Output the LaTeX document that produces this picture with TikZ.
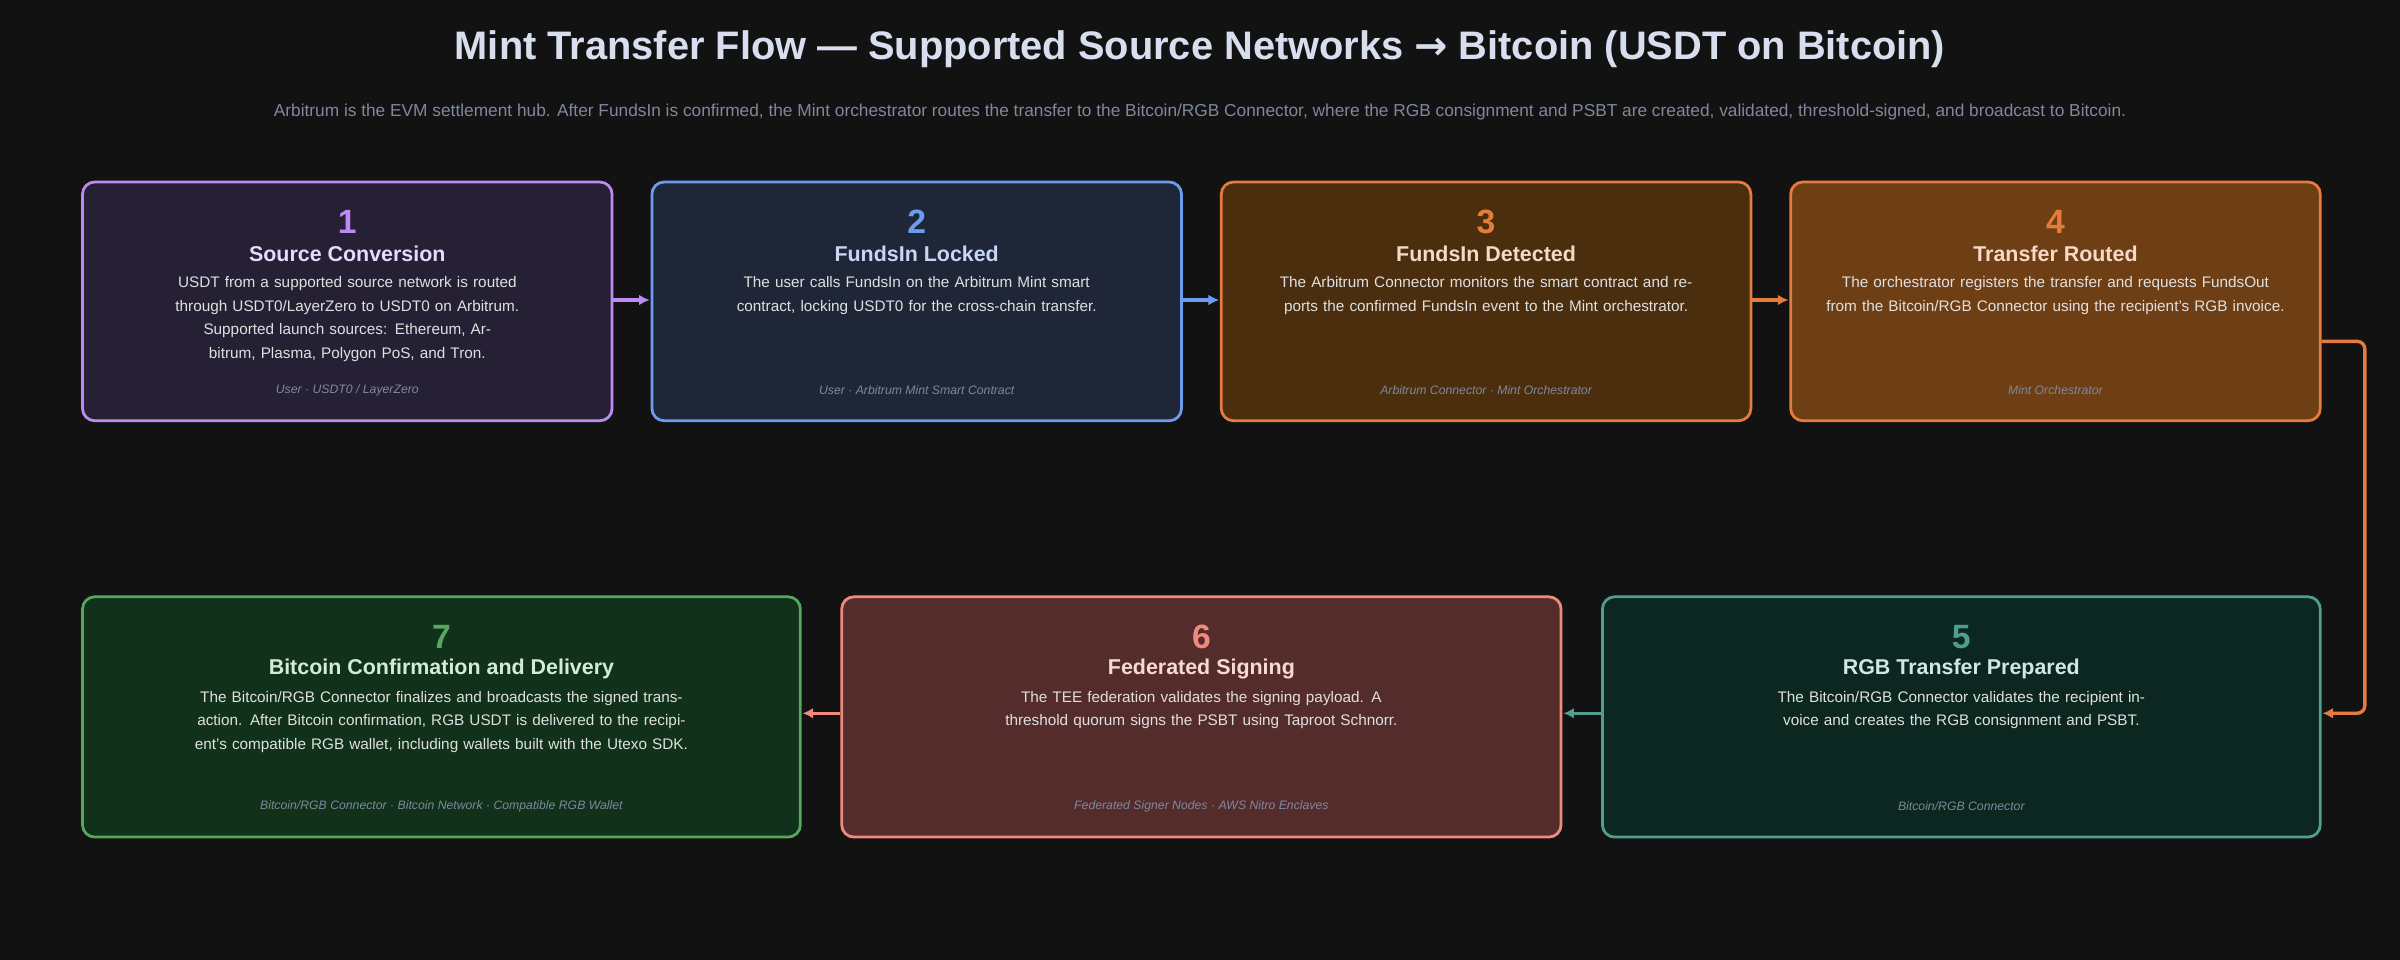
\documentclass[tikz,border=0pt]{standalone}
\usepackage{fontspec}
\usetikzlibrary{arrows.meta}
\setmainfont{Liberation Sans}
\newfontfamily\dejavu{DejaVu Sans}
\definecolor{bg}{HTML}{121212}
\definecolor{titlec}{HTML}{D8DEEE}
\definecolor{footc}{HTML}{7F889C}
\definecolor{pA}{HTML}{BC8AF2}\definecolor{fA}{HTML}{252034}\definecolor{tA}{HTML}{E6DAFF}
\definecolor{pB}{HTML}{6C9CF0}\definecolor{fB}{HTML}{1E2638}\definecolor{tB}{HTML}{C8D6F4}
\definecolor{pC}{HTML}{E47C3E}\definecolor{fC}{HTML}{4A2E0E}\definecolor{tC}{HTML}{F6D9C6}
\definecolor{fD}{HTML}{6E3F15}
\definecolor{pE}{HTML}{4F9E8E}\definecolor{fE}{HTML}{0C2620}\definecolor{tE}{HTML}{CFE8E2}
\definecolor{pF}{HTML}{F08A7E}\definecolor{fF}{HTML}{552C2C}\definecolor{tF}{HTML}{F8DAD4}
\definecolor{pG}{HTML}{55A85E}\definecolor{fG}{HTML}{11311A}\definecolor{tG}{HTML}{D4ECD6}
\newcommand{\stepc}[8]{%
 \node[num, text=#2] (n#1) at ([yshift=-27]#1.north) {#3};
 \node[ttl, text=#4] (t#1) at ([yshift=-48]#1.north) {#5};
 \node[body, text width=#8] (d#1) at ([yshift=-59]#1.north) {#6};
 \node[foot] (f#1) at ([yshift=21]#1.south) {#7};}
\begin{document}
\begin{tikzpicture}[x=1pt,y=1pt,
  box/.style={draw, line width=1.8pt, rounded corners=8pt, anchor=north west, inner sep=0pt},
  num/.style={font=\fontsize{22}{24}\selectfont\bfseries},
  ttl/.style={font=\fontsize{14}{16}\selectfont\bfseries},
  body/.style={font=\fontsize{10}{15.5}\selectfont, text=black!12, align=center, anchor=north},
  foot/.style={font=\fontsize{8}{10}\selectfont\itshape, text=footc},
  arr/.style={line width=2.2pt, -{Latex[length=7pt,width=7pt]}, shorten >=0.5pt}]
\fill[bg] (0,0) rectangle (1568,627);
\useasboundingbox (0,0) rectangle (1568,627);
\node[font=\fontsize{26}{30}\selectfont\bfseries, text=titlec] (title) at (784,595) {Mint Transfer Flow — Supported Source Networks {\dejavu\bfseries →} Bitcoin (USDT on Bitcoin)};
\node[font=\fontsize{11.3}{13}\selectfont, text=footc] (sub) at (784,554) {Arbitrum is the EVM settlement hub. After FundsIn is confirmed, the Mint orchestrator routes the transfer to the Bitcoin/RGB Connector, where the RGB consignment and PSBT are created, validated, threshold-signed, and broadcast to Bitcoin.};
\node[box, draw=pA, fill=fA, minimum width=346, minimum height=156] (b1) at (53,509) {};
\node[box, draw=pB, fill=fB, minimum width=346, minimum height=156] (b2) at (425,509) {};
\node[box, draw=pC, fill=fC, minimum width=346, minimum height=156] (b3) at (797,509) {};
\node[box, draw=pC, fill=fD, minimum width=346, minimum height=156] (b4) at (1169,509) {};
\node[box, draw=pG, fill=fG, minimum width=469, minimum height=157] (b7) at (53,238) {};
\node[box, draw=pF, fill=fF, minimum width=470, minimum height=157] (b6) at (549,238) {};
\node[box, draw=pE, fill=fE, minimum width=469, minimum height=157] (b5) at (1046,238) {};
\stepc{b1}{pA}{1}{tA}{Source Conversion}{USDT from a supported source network is routed through USDT0/LayerZero to USDT0 on Arbitrum.\\Supported launch sources: Ethereum, Arbitrum, Plasma, Polygon PoS, and Tron.}{User · USDT0 / LayerZero}{305}
\stepc{b2}{pB}{2}{tB}{FundsIn Locked}{The user calls FundsIn on the Arbitrum Mint smart contract, locking USDT0 for the cross-chain transfer.}{User · Arbitrum Mint Smart Contract}{325}
\stepc{b3}{pC}{3}{tC}{FundsIn Detected}{The Arbitrum Connector monitors the smart contract and reports the confirmed FundsIn event to the Mint orchestrator.}{Arbitrum Connector · Mint Orchestrator}{325}
\stepc{b4}{pC}{4}{tC}{Transfer Routed}{The orchestrator registers the transfer and requests FundsOut from the Bitcoin/RGB Connector using the recipient's RGB invoice.}{Mint Orchestrator}{325}
\stepc{b5}{pE}{5}{tE}{RGB Transfer Prepared}{The Bitcoin/RGB Connector validates the recipient invoice and creates the RGB consignment and PSBT.}{Bitcoin/RGB Connector}{440}
\stepc{b6}{pF}{6}{tF}{Federated Signing}{The TEE federation validates the signing payload. A threshold quorum signs the PSBT using Taproot Schnorr.}{Federated Signer Nodes · AWS Nitro Enclaves}{440}
\stepc{b7}{pG}{7}{tG}{Bitcoin Confirmation and Delivery}{The Bitcoin/RGB Connector finalizes and broadcasts the signed transaction. After Bitcoin confirmation, RGB USDT is delivered to the recipient's compatible RGB wallet, including wallets built with the Utexo SDK.}{Bitcoin/RGB Connector · Bitcoin Network · Compatible RGB Wallet}{450}
\draw[arr, pA] (b1.east |- 0,431) -- (b2.west |- 0,431);
\draw[arr, pB] (b2.east |- 0,431) -- (b3.west |- 0,431);
\draw[arr, pC] (b3.east |- 0,431) -- (b4.west |- 0,431);
\coordinate (c1) at (1545,404);
\coordinate (c2) at (1545,161);
\draw[arr, pC, rounded corners=5pt] (b4.east |- 0,404) -- (c1) -- (c2) -- (b5.east |- 0,161);
\draw[arr, pE] (b5.west |- 0,161) -- (b6.east |- 0,161);
\draw[arr, pF] (b6.west |- 0,161) -- (b7.east |- 0,161);
\end{tikzpicture}
\end{document}
